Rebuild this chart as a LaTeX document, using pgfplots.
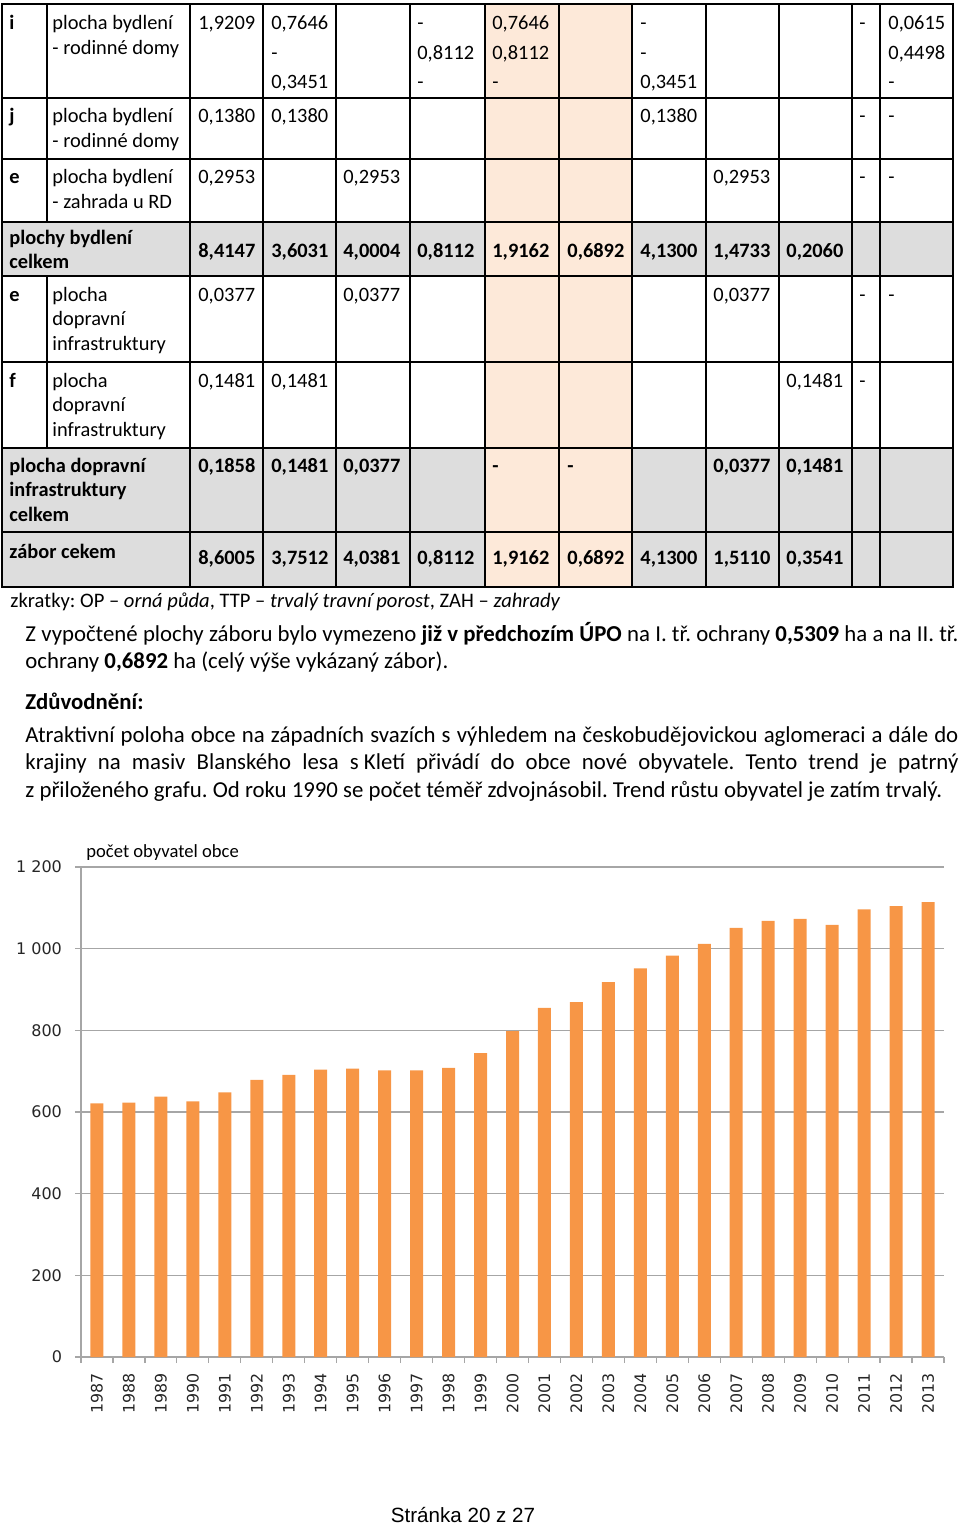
\documentclass[border=0pt]{standalone}
\usepackage{fontspec}
\usepackage{pgfplots}
\pgfplotsset{compat=1.18}
\setmainfont{Carlito}
\newfontfamily\dejavu{DejaVu Sans}
\newfontfamily\arial{Liberation Sans}
\definecolor{peach}{HTML}{FDE9D9}
\definecolor{tgray}{HTML}{DDDDDD}
\definecolor{barorange}{HTML}{F79646}
\definecolor{gridgray}{HTML}{A6A6A6}
\frenchspacing
\newcommand\tf{\fontsize{10.2}{12.25}\selectfont}
\newcommand\bodyf{\fontsize{11.4}{13.5}\selectfont}
\newcommand\cell[3]{\node[anchor=base west,inner sep=0pt,font=\tf] at (#1,#2) {#3};}
\newcommand\bcell[3]{\node[anchor=base west,inner sep=0pt,font=\tf\bfseries] at (#1,#2) {#3};}
\begin{document}
\begin{tikzpicture}
\useasboundingbox (0,0) rectangle (480pt,-762.5pt);
\begin{scope}[x=0.5pt,y=-0.5pt]
% fills
\fill[tgray] (2,222) rectangle (953,276);
\fill[tgray] (2,448) rectangle (953,587);
\fill[peach] (485,4) rectangle (632,587);
% grid
\draw[line width=1pt] (2,4) rectangle (953,587);
\foreach \y in {98,159,222,276,362,448,532} \draw[line width=1pt] (2,\y) -- (953,\y);
\foreach \x in {190,263,336,410,485,559,632,706,779,852,880} \draw[line width=1pt] (\x,4) -- (\x,587);
\draw[line width=1pt] (47,4) -- (47,222);
\draw[line width=1pt] (47,276) -- (47,448);
% row i
\bcell{9}{30}{i}
\cell{52}{30}{plocha bydlení}
\cell{52}{54.5}{- rodinné domy}
\cell{198}{30}{1,9209}
\cell{271}{30}{0,7646}\cell{271}{59.5}{-}\cell{271}{89}{0,3451}
\cell{417}{30}{-}\cell{417}{59.5}{0,8112}\cell{417}{89}{-}
\cell{492}{30}{0,7646}\cell{492}{59.5}{0,8112}\cell{492}{89}{-}
\cell{640}{30}{-}\cell{640}{59.5}{-}\cell{640}{89}{0,3451}
\cell{859}{30}{-}
\cell{888}{30}{0,0615}\cell{888}{59.5}{0,4498}\cell{888}{89}{-}
% row j
\bcell{9}{123}{j}
\cell{52}{123}{plocha bydlení}
\cell{52}{147.5}{- rodinné domy}
\cell{198}{123}{0,1380}\cell{271}{123}{0,1380}\cell{640}{123}{0,1380}
\cell{859}{123}{-}\cell{888}{123}{-}
% row e
\bcell{9}{184}{e}
\cell{52}{184}{plocha bydlení}
\cell{52}{208.5}{- zahrada u RD}
\cell{198}{184}{0,2953}\cell{343}{184}{0,2953}\cell{713}{184}{0,2953}
\cell{859}{184}{-}\cell{888}{184}{-}
% plochy bydleni celkem
\bcell{9}{244}{plochy bydlení}
\bcell{9}{268.5}{celkem}
\bcell{198}{257}{8,4147}\bcell{271}{257}{3,6031}\bcell{343}{257}{4,0004}
\bcell{417}{257}{0,8112}\bcell{492}{257}{1,9162}\bcell{567}{257}{0,6892}
\bcell{640}{257}{4,1300}\bcell{713}{257}{1,4733}\bcell{786}{257}{0,2060}
% row e doprava
\bcell{9}{301}{e}
\cell{52}{301}{plocha}\cell{52}{325.5}{dopravní}\cell{52}{350}{infrastruktury}
\cell{198}{301}{0,0377}\cell{343}{301}{0,0377}\cell{713}{301}{0,0377}
\cell{859}{301}{-}\cell{888}{301}{-}
% row f
\bcell{9}{387}{f}
\cell{52}{387}{plocha}\cell{52}{411.5}{dopravní}\cell{52}{436}{infrastruktury}
\cell{198}{387}{0,1481}\cell{271}{387}{0,1481}\cell{786}{387}{0,1481}
\cell{859}{387}{-}
% doprava celkem
\bcell{9}{472}{plocha dopravní}\bcell{9}{496.5}{infrastruktury}\bcell{9}{521}{celkem}
\bcell{198}{472}{0,1858}\bcell{271}{472}{0,1481}\bcell{343}{472}{0,0377}
\bcell{492}{472}{-}\bcell{567}{472}{-}
\bcell{713}{472}{0,0377}\bcell{786}{472}{0,1481}
% zabor
\bcell{9}{558}{zábor cekem}
\bcell{198}{564}{8,6005}\bcell{271}{564}{3,7512}\bcell{343}{564}{4,0381}
\bcell{417}{564}{0,8112}\bcell{492}{564}{1,9162}\bcell{567}{564}{0,6892}
\bcell{640}{564}{4,1300}\bcell{713}{564}{1,5110}\bcell{786}{564}{0,3541}
% text below
\node[anchor=base west,inner sep=0pt,font=\fontsize{10.3}{12}\selectfont] at (10,607) {zkratky: OP – \textit{orná půda}, TTP – \textit{trvalý travní porost}, ZAH – \textit{zahrady}};
\node[anchor=base west,inner sep=0pt,font=\bodyf] at (25,641) {\makebox[466.5pt][s]{Z vypočtené plochy záboru bylo vymezeno \textbf{již v předchozím ÚPO} na I. tř. ochrany \textbf{0,5309} ha a na II. tř.}};
\node[anchor=base west,inner sep=0pt,font=\bodyf] at (25,668) {ochrany \textbf{0,6892} ha (celý výše vykázaný zábor).};
\node[anchor=base west,inner sep=0pt,font=\bodyf\bfseries] at (25,709.5) {Zdůvodnění:};
\node[anchor=base west,inner sep=0pt,font=\bodyf] at (25,742.5) {\makebox[466.5pt][s]{Atraktivní poloha obce na západních svazích s výhledem na českobudějovickou aglomeraci a dále do}};
\node[anchor=base west,inner sep=0pt,font=\bodyf] at (25,769.5) {\makebox[466.5pt][s]{krajiny na masiv Blanského lesa \mbox{s Kletí} přivádí do obce nové obyvatele. Tento trend je patrný}};
\node[anchor=base west,inner sep=0pt,font=\bodyf] at (25,797) {z přiloženého grafu. Od roku 1990 se počet téměř zdvojnásobil. Trend růstu obyvatel je zatím trvalý.};
% chart title and footer
\node[anchor=base west,inner sep=0pt,font=\fontsize{9.3}{11}\selectfont] at (86,857) {počet obyvatel obce};
\node[anchor=base,inner sep=0pt,font=\arial\fontsize{10.3}{12}\selectfont] at (463,1522) {Stránka 20 z 27};
\end{scope}
\begin{axis}[
  at={(40.5pt,-678.5pt)}, anchor=south west,
  scale only axis, width=431.5pt, height=245pt,
  xmin=-0.5, xmax=26.5, ymin=0, ymax=1200,
  axis x line*=bottom, axis y line*=left,
  axis line style={draw=gridgray, line width=0.6pt, -},
  ytick={0,200,400,600,800,1000,1200},
  yticklabels={0,200,400,600,800,{1 000},{1 200}},
  yticklabel style={font=\dejavu\fontsize{8}{9}\selectfont, text=black!85, xshift=-3pt},
  xtick={0,...,26},
  xticklabels={1987,1988,1989,1990,1991,1992,1993,1994,1995,1996,1997,1998,1999,2000,2001,2002,2003,2004,2005,2006,2007,2008,2009,2010,2011,2012,2013},
  xticklabel style={rotate=90, anchor=east, font=\dejavu\fontsize{7.9}{9}\selectfont, text=black!85, xshift=-1.5pt},
  minor xtick={-0.5,0.5,...,26.5},
  major x tick style={draw=none},
  tick align=outside, major tick length=3pt, minor tick length=3pt,
  tick style={draw=gridgray, line width=0.6pt},
  ymajorgrids, major grid style={draw=gridgray, line width=0.6pt},
]
\addplot[ybar, bar width=6.5pt, fill=barorange, draw=none] coordinates {
(0,621) (1,623) (2,638) (3,626) (4,648) (5,679) (6,691) (7,704) (8,706) (9,702)
(10,702) (11,708) (12,744) (13,798) (14,855) (15,869) (16,918) (17,952) (18,983)
(19,1012) (20,1051) (21,1068) (22,1073) (23,1058) (24,1096) (25,1104) (26,1114)};
\end{axis}
\end{tikzpicture}
\end{document}
